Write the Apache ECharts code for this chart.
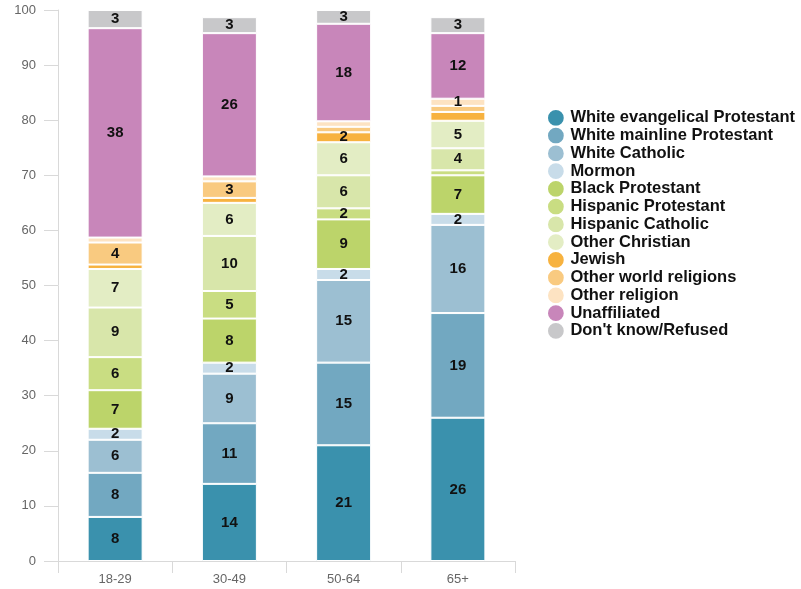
<!DOCTYPE html>
<html>
<head>
<meta charset="utf-8">
<script src="https://cdn.jsdelivr.net/npm/echarts@6/dist/echarts.min.js"></script>
<style>
html,body{margin:0;padding:0;background:#fff;}
#chart{width:801px;height:589px;}
</style>
</head>
<body>
<div id="chart"></div>
<script>
const categories = ['18-29', '30-49', '50-64', '65+'];
const yTicks = [0, 10, 20, 30, 40, 50, 60, 70, 80, 90, 100];

const whiteEvangelical = [8, 14, 21, 26];
const whiteMainline = [8, 11, 15, 19];
const whiteCatholic = [6, 9, 15, 16];
const mormon = [2, 2, 2, 2];
const blackProtestant = [7, 8, 9, 7];
const hispanicProtestant = [6, 5, 2, 0.9];
const hispanicCatholic = [9, 10, 6, 4];
const otherChristian = [7, 6, 6, 5];
const jewish = [0.8, 0.9, 1.8, 1.6];
const otherWorld = [4, 3, 1.0, 1.1];
const otherReligion = [0.9, 0.9, 1.0, 1.3];
const unaffiliated = [38, 26, 17.7, 11.9];
const dontKnow = [3.3, 2.9, 2.5, 2.9];

// segments drawn without a value label: [series name, category index]
const unlabeled = [
  ['Hispanic Protestant', 3],
  ['Jewish', 0], ['Jewish', 1], ['Jewish', 3],
  ['Other world religions', 2], ['Other world religions', 3],
  ['Other religion', 0], ['Other religion', 1], ['Other religion', 2]
];

const seriesDefs = [
  ['White evangelical Protestant', whiteEvangelical, '#3a91ad'],
  ['White mainline Protestant', whiteMainline, '#72a8c1'],
  ['White Catholic', whiteCatholic, '#9cbfd2'],
  ['Mormon', mormon, '#c8dce9'],
  ['Black Protestant', blackProtestant, '#bcd46a'],
  ['Hispanic Protestant', hispanicProtestant, '#c9dd82'],
  ['Hispanic Catholic', hispanicCatholic, '#d8e6aa'],
  ['Other Christian', otherChristian, '#e3edc4'],
  ['Jewish', jewish, '#f7b23f'],
  ['Other world religions', otherWorld, '#f9ca80'],
  ['Other religion', otherReligion, '#fde3c2'],
  ['Unaffiliated', unaffiliated, '#c886ba'],
  ["Don't know/Refused", dontKnow, '#c8c8ca']
];

const FONT = '"Liberation Sans", Arial, sans-serif';

const series = seriesDefs.map(([name, data, color]) => ({
  name: name,
  type: 'bar',
  stack: 'total',
  data: data,
  barWidth: 55,
  itemStyle: { color: color, borderColor: '#ffffff', borderWidth: 1 },
  label: {
    show: true,
    position: 'inside',
    color: '#111',
    fontWeight: 'bold',
    fontSize: 15,
    fontFamily: FONT,
    formatter: function (p) {
      for (const u of unlabeled) {
        if (u[0] === p.seriesName && u[1] === p.dataIndex) return '';
      }
      return String(Math.round(p.value));
    }
  },
  emphasis: { disabled: true }
}));

const chart = echarts.init(document.getElementById('chart'), null, { renderer: 'canvas' });
chart.setOption({
  animation: false,
  backgroundColor: '#ffffff',
  grid: { left: 58, right: 286, top: 10, bottom: 28, containLabel: false },
  legend: {
    orient: 'vertical',
    left: 541,
    top: 103,
    icon: 'circle',
    itemWidth: 19,
    itemHeight: 17.75,
    itemGap: -2,
    textStyle: {
      fontFamily: FONT,
      fontSize: 16.5,
      lineHeight: 15,
      fontWeight: 'bold',
      color: '#111',
      padding: [0, 0, 0, 0]
    },
    data: seriesDefs.map(d => d[0])
  },
  xAxis: {
    type: 'category',
    data: categories,
    axisLine: { show: true, lineStyle: { color: '#d9d9d9', width: 1 } },
    axisTick: { show: true, length: 12, lineStyle: { color: '#d9d9d9' } },
    axisLabel: { color: '#666', fontSize: 13, fontFamily: FONT, margin: 12 },
    splitLine: { show: false }
  },
  yAxis: {
    type: 'value',
    min: yTicks[0],
    max: yTicks[yTicks.length - 1],
    interval: yTicks[1] - yTicks[0],
    axisLine: { show: true, lineStyle: { color: '#d9d9d9', width: 1 } },
    axisTick: { show: true, length: 14, lineStyle: { color: '#d9d9d9' } },
    axisLabel: { color: '#666', fontSize: 13, fontFamily: FONT, margin: 22 },
    splitLine: { show: false }
  },
  series: series
});
</script>
</body>
</html>
